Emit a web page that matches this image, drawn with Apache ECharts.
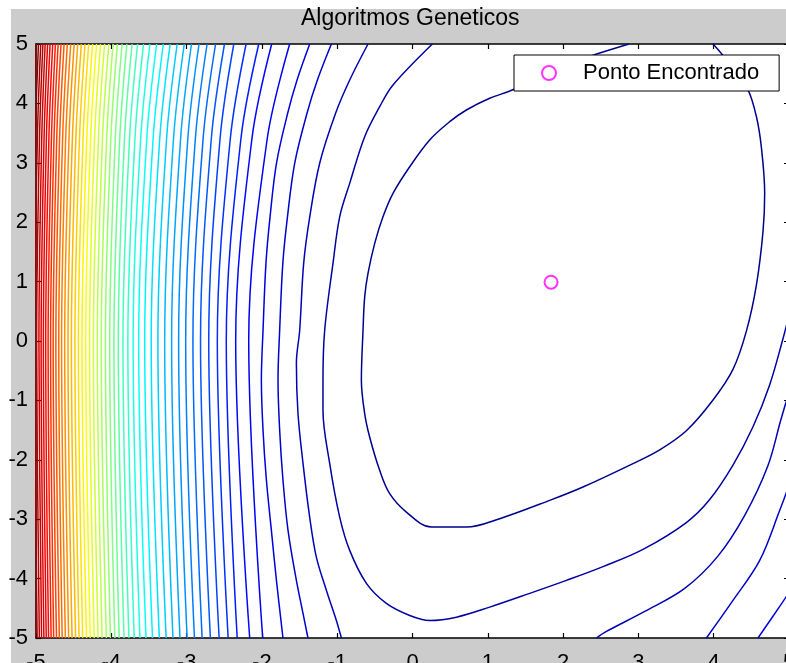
<!DOCTYPE html>
<html><head><meta charset="utf-8">
<script src="https://cdn.jsdelivr.net/npm/echarts@6/dist/echarts.min.js"></script>
<style>html,body{margin:0;padding:0;background:#fff;}#c{width:786px;height:663px;}</style>
</head><body><div id="c"></div>
<script>
// ---------- DATA ----------
const titleText = 'Algoritmos Geneticos';
const xTickValues = [-5,-4,-3,-2,-1,0,1,2,3,4,5];
const yTickValues = [-5,-4,-3,-2,-1,0,1,2,3,4,5];
const topLevelIndex = 50;              // contour level indices run 0 (lowest) .. 51 (highest, mostly off-axis)

// Point found by the GA
const pointName = 'Ponto Encontrado';
const pointX = [1.84];
const pointY = [0.99];

// Contour lines, [x, y] in data units
const level0 = [[2.875,5],[2.477,4.844],[2.088,4.681],[1.689,4.48],[1.348,4.238],[1.025,4.086],[0.716,3.889],[0.494,3.692],[0.228,3.384],[-0.037,2.933],[-0.259,2.485],[-0.392,2.091],[-0.502,1.643],[-0.591,1.137],[-0.635,0.743],[-0.657,0.182],[-0.679,-0.660],[-0.635,-1.222],[-0.569,-1.616],[-0.436,-2.177],[-0.303,-2.570],[-0.081,-2.880],[0.251,-3.132],[0.716,-3.132],[1.158,-2.991],[1.822,-2.683],[2.264,-2.458],[2.928,-2.064],[3.283,-1.832],[3.637,-1.510],[3.991,-0.992],[4.256,-0.477],[4.434,0.167],[4.567,0.942],[4.655,1.845],[4.677,2.489],[4.633,3.262],[4.567,3.779],[4.456,4.229],[4.279,4.529],[4.120,4.811],[3.991,5]];
const level1 = [[0.264,5],[-0.259,4.310],[-0.436,3.944],[-0.635,3.439],[-0.834,2.654],[-0.967,2.091],[-1.056,1.306],[-1.166,0.182],[-1.189,-0.660],[-1.189,-1.166],[-1.100,-2.059],[-0.967,-2.964],[-0.834,-3.525],[-0.612,-4.080],[-0.347,-4.417],[-0.037,-4.620],[0.228,-4.705],[0.583,-4.649],[1.025,-4.480],[1.556,-4.249],[2.044,-4.030],[2.530,-3.798],[3.061,-3.508],[3.637,-3.056],[3.947,-2.669],[4.256,-2.089],[4.522,-1.444],[4.744,-0.735],[4.920,0.039],[5.0,0.435]];
const level2Left = [[-0.591,5],[-0.834,4.393],[-1.020,3.838],[-1.232,2.996],[-1.365,2.086],[-1.445,1.311],[-1.498,0.182],[-1.542,-0.374],[-1.521,-1.217],[-1.454,-2.059],[-1.365,-2.969],[-1.276,-3.643],[-1.143,-4.199],[-1.011,-4.705],[-0.944,-5]];
const level2Right = [[2.442,-5],[2.575,-4.890],[3.084,-4.553],[3.615,-4.165],[4.053,-3.626],[4.412,-2.935],[4.717,-2.110],[4.890,-1.335],[5.0,-0.863]];
const level3Left = [[-1.077,5],[-1.263,4.394],[-1.400,3.838],[-1.564,2.996],[-1.661,2.086],[-1.722,1.311],[-1.764,0.182],[-1.786,-0.660],[-1.764,-1.503],[-1.720,-2.345],[-1.653,-3.188],[-1.542,-4.030],[-1.454,-4.586],[-1.388,-5]];
const level3Right = [[3.903,-5],[4.256,-4.367],[4.611,-3.693],[4.877,-2.851],[5.0,-2.430]];
const level4Left = [[-1.365,5],[-1.533,4.394],[-1.657,3.838],[-1.806,2.996],[-1.892,2.086],[-1.946,1.311],[-1.985,0.182],[-2.007,-0.660],[-1.985,-1.503],[-1.940,-2.345],[-1.874,-3.188],[-1.807,-4.030],[-1.720,-5]];
const level4Right = [[4.588,-5],[4.877,-4.468],[5.0,-4.233]];

// Near-vertical contours, levels 5..51: x read at the rows y = 5, 3.4, 0, -5
const rowY = [5, 3.4, 0, -5];
const steepLevels = [5,6,7,8,9,10,11,12,13,14,15,16,17,18,19,20,21,22,23,24,25,26,27,28,29,30,31,32,33,34,35,36,37,38,39,40,41,42,43,44,45,46,47,48,49,50,51];
const xAtTop = [-1.631,-1.870,-2.042,-2.210,-2.373,-2.497,-2.615,-2.728,-2.835,-2.935,-3.031,-3.125,-3.218,-3.309,-3.398,-3.487,-3.572,-3.651,-3.724,-3.793,-3.857,-3.919,-3.976,-4.033,-4.089,-4.143,-4.196,-4.248,-4.300,-4.349,-4.398,-4.446,-4.493,-4.539,-4.584,-4.627,-4.668,-4.706,-4.742,-4.778,-4.813,-4.846,-4.878,-4.908,-4.937,-4.967,-4.996];
const xAtUpper = [-1.930,-2.133,-2.279,-2.420,-2.556,-2.672,-2.781,-2.884,-2.984,-3.080,-3.174,-3.266,-3.357,-3.445,-3.529,-3.610,-3.686,-3.758,-3.825,-3.888,-3.947,-4.006,-4.062,-4.117,-4.171,-4.223,-4.275,-4.326,-4.375,-4.423,-4.471,-4.517,-4.562,-4.606,-4.647,-4.687,-4.725,-4.761,-4.795,-4.829,-4.862,-4.893,-4.924,-4.954,-4.982,-5.010,-5.039];
const xAtMiddle = [-2.175,-2.348,-2.473,-2.592,-2.706,-2.815,-2.916,-3.012,-3.106,-3.199,-3.291,-3.381,-3.470,-3.556,-3.636,-3.710,-3.780,-3.845,-3.907,-3.965,-4.021,-4.078,-4.133,-4.186,-4.238,-4.289,-4.340,-4.389,-4.437,-4.483,-4.530,-4.575,-4.619,-4.660,-4.698,-4.736,-4.772,-4.806,-4.839,-4.871,-4.902,-4.932,-4.961,-4.991,-5.019,-5.046,-5.074];
const xAtBottom = [-1.989,-2.162,-2.328,-2.448,-2.568,-2.684,-2.794,-2.896,-2.993,-3.088,-3.181,-3.272,-3.362,-3.453,-3.539,-3.620,-3.696,-3.766,-3.831,-3.895,-3.953,-4.011,-4.066,-4.122,-4.175,-4.227,-4.279,-4.329,-4.380,-4.428,-4.474,-4.521,-4.566,-4.610,-4.652,-4.690,-4.728,-4.765,-4.799,-4.833,-4.864,-4.895,-4.926,-4.956,-4.985,-5.013,-5.041];

// ---------- CHART ----------
const FONT = '"Liberation Sans", Arial, sans-serif';
function jet(t) {
  t = Math.min(1, Math.max(0, t));
  const u = 0.0156 + 0.9688 * t;   // MATLAB-style jet, ends at 0.5625
  const c = v => Math.round(255 * Math.max(0, Math.min(1, v)));
  return 'rgb(' + c(1.5 - Math.abs(4*u - 3)) + ',' + c(1.5 - Math.abs(4*u - 2)) + ',' + c(1.5 - Math.abs(4*u - 1)) + ')';
}
function contourSeries(points, level) {
  return {
    type: 'line', data: points, showSymbol: false, symbol: 'none', smooth: 0.35,
    silent: true, clip: true, z: 2,
    lineStyle: { color: jet(level / topLevelIndex), width: 1.5 }
  };
}
const series = [];
[[level0,0],[level1,1],[level2Left,2],[level2Right,2],[level3Left,3],[level3Right,3],[level4Left,4],[level4Right,4]]
  .forEach(([p, l]) => series.push(contourSeries(p, l)));
const rows = [xAtTop, xAtUpper, xAtMiddle, xAtBottom];
steepLevels.forEach((lvl, k) => {
  series.push(contourSeries(rowY.map((y, r) => [rows[r][k], y]), lvl));
});
series.push({
  name: pointName, type: 'scatter', symbol: 'emptyCircle', symbolSize: 13, z: 5,
  itemStyle: { color: '#ff00ff', borderColor: '#ff00ff', borderWidth: 1.5 },
  data: pointX.map((x, i) => [x, pointY[i]])
});

const axisCommon = {
  type: 'value', min: -5, max: 5, interval: 1,
  axisLine: { show: true, onZero: false, lineStyle: { color: '#000', width: 1.5 } },
  axisTick: { show: true, inside: true, length: 5, lineStyle: { color: '#000', width: 1.2 } },
  splitLine: { show: false }
};
const labelStyle = { color: '#000', fontSize: 22, fontFamily: FONT };

const chart = echarts.init(document.getElementById('c'), null, { renderer: 'canvas' });
chart.setOption({
  animation: false,
  backgroundColor: '#cccccc',
  graphic: [
    { type: 'rect', left: 0, top: 0, shape: { width: 786, height: 9 }, style: { fill: '#fff' }, silent: true },
    { type: 'rect', left: 0, top: 0, shape: { width: 11, height: 663 }, style: { fill: '#fff' }, silent: true }
  ],
  title: {
    text: titleText, left: 301, top: 7, padding: 0,
    textStyle: { fontSize: 23, fontWeight: 'normal', color: '#000', fontFamily: FONT }
  },
  grid: { left: 36, top: 44, width: 753, height: 594, show: true, backgroundColor: '#fff', borderWidth: 0,
          containLabel: false, outerBoundsMode: 'none' },
  legend: {
    data: [pointName], left: 514, top: 55, selectedMode: false,
    backgroundColor: '#fff', borderColor: '#000', borderWidth: 1, borderRadius: 0,
    padding: [7, 20, 7, 27], itemWidth: 14, itemHeight: 14,
    textStyle: { fontSize: 22, color: '#000', fontFamily: FONT, lineHeight: 22, padding: [0, 0, 0, 22] }
  },
  xAxis: [
    Object.assign({}, axisCommon, { position: 'bottom',
      axisLabel: Object.assign({ margin: 14, formatter: v => xTickValues.includes(v) ? String(v) : '' }, labelStyle) }),
    Object.assign({}, axisCommon, { position: 'top', axisLabel: { show: false } })
  ],
  yAxis: [
    Object.assign({}, axisCommon, { position: 'left',
      axisLabel: Object.assign({ margin: 8, formatter: v => yTickValues.includes(v) ? String(v) : '' }, labelStyle) }),
    Object.assign({}, axisCommon, { position: 'right', axisLabel: { show: false } })
  ],
  series: series
});
</script></body></html>
